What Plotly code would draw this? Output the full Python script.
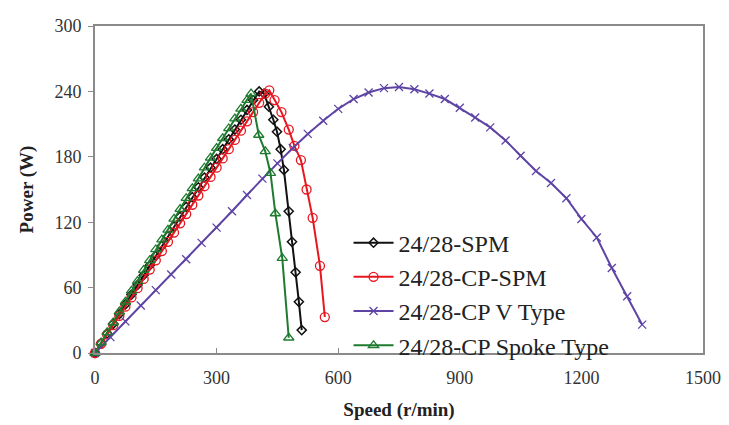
import plotly.graph_objects as go

# ---- data ----
spm_speed = [0, 15, 30, 45, 60, 75, 90, 105, 120, 135, 150, 165, 180, 195, 210, 225, 240, 255, 270,
             285, 300, 315, 330, 345, 360, 375, 390, 405, 417, 429, 440, 449, 458, 466, 478, 486, 495, 503, 510]
spm_power = [0, 8.9, 17.9, 26.8, 35.7, 44.6, 53.6, 62.5, 71.4, 80.3, 89.3, 98.2, 107, 116, 125, 134, 143, 152, 161,
             170, 178, 187, 196, 205, 214, 223, 232, 240, 238, 226, 214, 203, 187, 168, 130, 102, 74, 47, 21]

cpspm_speed = [0, 15, 30, 45, 60, 75, 90, 105, 120, 135, 150, 165, 180, 195, 210, 225, 240, 255, 270,
               285, 300, 315, 330, 345, 360, 375, 390, 405, 420, 430, 443, 460, 478, 492, 508, 522, 537, 555, 567]
cpspm_power = [0, 8.5, 17, 25.5, 34, 42.5, 51, 59.5, 68, 76.5, 85, 93.5, 102, 110.5, 119, 127.5, 136, 144.5, 153,
               161.5, 170, 178.5, 187, 195.5, 204, 212.5, 221, 229.5, 238, 241, 232, 221, 205, 190, 177, 150, 124, 80, 33]

vtype_speed = [0, 38, 75, 113, 150, 188, 225, 263, 300, 338, 375, 413, 450, 488, 525, 563, 600, 638, 675,
               713, 750, 788, 825, 863, 900, 938, 975, 1013, 1050, 1088, 1125, 1163, 1200, 1238, 1275, 1313, 1350]
vtype_power = [0, 14.6, 29, 43.5, 57.7, 72, 86, 101, 115, 130, 145, 160, 174, 188, 201, 213, 224, 233, 239,
               243, 244, 242, 238, 233, 225, 216, 207, 195, 181, 167, 156, 142, 123, 106, 78, 52, 26]

spoke_speed = [0, 15, 30, 45, 60, 75, 90, 105, 120, 135, 150, 165, 180, 195, 210, 225, 240, 255, 270,
               285, 300, 315, 330, 345, 360, 375, 385, 404, 420, 433, 445, 462, 478]
spoke_power = [0, 9.5, 19, 28, 38, 47, 57, 66, 76, 85, 95, 104, 113, 123, 132, 142, 151, 160, 170,
               179, 188, 197, 206, 215, 224, 232, 238, 200, 185, 165, 128, 87, 14]

series_names = ["24/28-SPM", "24/28-CP-SPM", "24/28-CP V Type", "24/28-CP Spoke Type"]
x_ticks = [0, 300, 600, 900, 1200, 1500]
y_ticks = [0, 60, 120, 180, 240, 300]

FONT = "Liberation Serif, Times New Roman, serif"

fig = go.Figure()

fig.add_trace(go.Scatter(
    x=spm_speed, y=spm_power, name=series_names[0], mode="lines+markers",
    line=dict(color="#111111", width=2),
    marker=dict(symbol="diamond-open", size=7, color="#111111", line=dict(width=1.5)),
    cliponaxis=False))

fig.add_trace(go.Scatter(
    x=cpspm_speed, y=cpspm_power, name=series_names[1], mode="lines+markers",
    line=dict(color="#e8161f", width=2),
    marker=dict(symbol="circle-open", size=9, color="#e8161f", line=dict(width=1.3)),
    cliponaxis=False))

fig.add_trace(go.Scatter(
    x=vtype_speed, y=vtype_power, name=series_names[2], mode="lines+markers",
    line=dict(color="#5e44a4", width=2),
    marker=dict(symbol="x-thin-open", size=8, color="#5e44a4", line=dict(width=1.3, color="#5e44a4")),
    cliponaxis=False))

fig.add_trace(go.Scatter(
    x=spoke_speed, y=spoke_power, name=series_names[3], mode="lines+markers",
    line=dict(color="#1e7a2e", width=2),
    marker=dict(symbol="triangle-up-open", size=9, color="#1e7a2e", line=dict(width=1.3)),
    cliponaxis=False))

axis_common = dict(
    showgrid=False, zeroline=False, showline=True, linecolor="#8a8a8a", linewidth=2,
    mirror=True, tickcolor="#8a8a8a", ticklen=5, tickwidth=1,
    tickfont=dict(family=FONT, size=18, color="#333333"),
    ticklabeloverflow="allow",
)

fig.update_xaxes(
    range=[0, 1500], tickvals=x_ticks, ticktext=[str(v) for v in x_ticks], ticks="inside",
    ticklabelstandoff=7,
    title=dict(text="<b>Speed (r/min)</b>", font=dict(family=FONT, size=19, color="#222222"), standoff=16),
    **axis_common)

fig.update_yaxes(
    range=[0, 300], tickvals=y_ticks, ticktext=[str(v) for v in y_ticks], ticks="outside",
    ticklabelstandoff=3,
    title=dict(text="<b>Power (W)</b>", font=dict(family=FONT, size=19, color="#222222"), standoff=16),
    **axis_common)

# the page body adds an 8px offset, so the figure is 8px smaller and margins shifted
fig.update_layout(
    width=721, height=417,
    margin=dict(l=87, r=19, t=8, b=67),
    paper_bgcolor="white", plot_bgcolor="white",
    showlegend=True,
    legend=dict(
        x=0.417, y=0.405, xanchor="left", yanchor="top",
        bgcolor="rgba(0,0,0,0)", borderwidth=0,
        font=dict(family=FONT, size=24, color="#222222"),
        itemwidth=40, tracegroupgap=0,
    ),
)

fig.write_html("out.html")
